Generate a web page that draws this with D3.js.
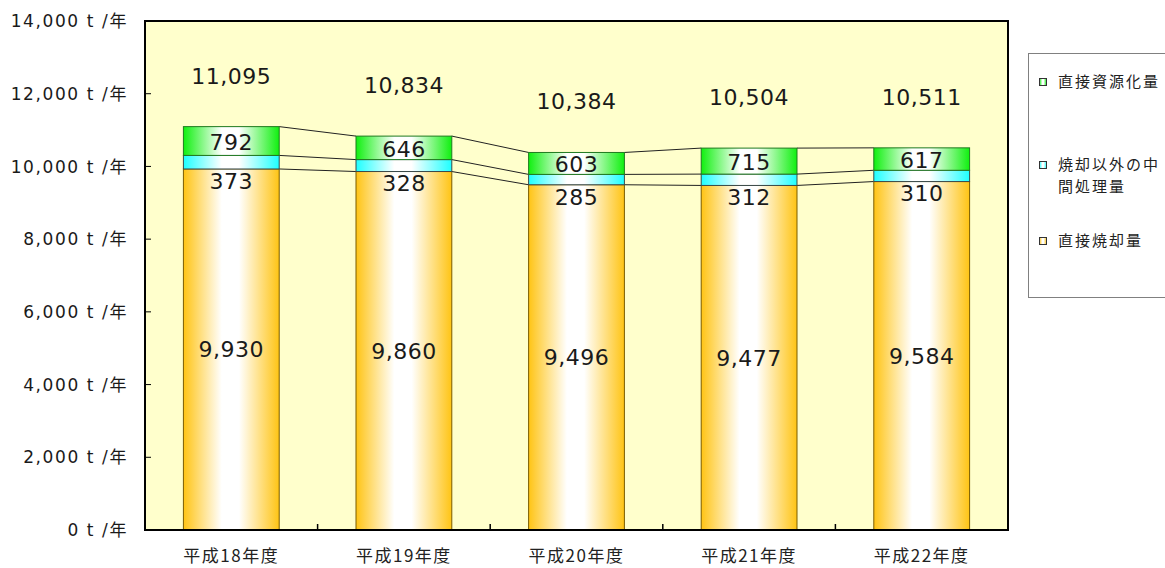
<!DOCTYPE html>
<html>
<head>
<meta charset="utf-8">
<script src="https://cdn.jsdelivr.net/npm/d3@7"></script>
<style>
  html, body { margin: 0; padding: 0; background: #ffffff; }
  svg { display: block; }
  .num { font-family: "DejaVu Sans", "Noto Sans CJK JP", sans-serif; fill: #1a1a1a; }
  .jp { font-family: "Noto Sans CJK JP", sans-serif; fill: #222; }
</style>
</head>
<body>
<svg id="chart" width="1165" height="568"></svg>
<script>
// 年度別のごみ処理量（t/年）
const categories = ["平成18年度", "平成19年度", "平成20年度", "平成21年度", "平成22年度"];
const directIncineration = [9930, 9860, 9496, 9477, 9584];   // 直接焼却量
const otherIntermediate = [373, 328, 285, 312, 310];          // 焼却以外の中間処理量
const directRecycling = [792, 646, 603, 715, 617];            // 直接資源化量
const yTicks = [0, 2000, 4000, 6000, 8000, 10000, 12000, 14000];

const seriesNames = ["直接焼却量", "焼却以外の中間処理量", "直接資源化量"];
const seriesValues = [directIncineration, otherIntermediate, directRecycling];
const seriesColors = ["#FFC414", "#1EFFFF", "#10F010"];
const seriesStrokes = ["#7a5c00", "#3a4a4a", "#1f7a1f"];

const svg = d3.select("#chart");
const plot = { left: 145, right: 1008, top: 21, bottom: 530 };

const x = d3.scaleBand()
  .domain(categories)
  .range([plot.left, plot.right])
  .paddingInner(0.445)
  .paddingOuter(0.2225);

const y = d3.scaleLinear()
  .domain([0, 14000])
  .range([plot.bottom, plot.top]);

// horizontal gradients: colour at the edges, white in the middle
const defs = svg.append("defs");
seriesColors.forEach((c, i) => {
  const g = defs.append("linearGradient")
    .attr("id", "grad" + i)
    .attr("x1", "0%").attr("x2", "100%").attr("y1", "0%").attr("y2", "0%");
  g.append("stop").attr("offset", "0%").attr("stop-color", c);
  g.append("stop").attr("offset", "40%").attr("stop-color", "#ffffff");
  g.append("stop").attr("offset", "58%").attr("stop-color", "#ffffff");
  g.append("stop").attr("offset", "100%").attr("stop-color", c);
});

// plot background
svg.append("rect")
  .attr("x", plot.left).attr("y", plot.top)
  .attr("width", plot.right - plot.left).attr("height", plot.bottom - plot.top)
  .attr("fill", "#FFFFCC");

// stacked data
const table = categories.map((c, i) => {
  const row = { cat: c };
  seriesNames.forEach((s, k) => { row[s] = seriesValues[k][i]; });
  return row;
});
const stacked = d3.stack().keys(seriesNames)(table);

// series lines joining the stack levels between neighbouring bars
stacked.forEach(layer => {
  for (let i = 0; i < categories.length - 1; i++) {
    svg.append("line")
      .attr("x1", x(categories[i]) + x.bandwidth())
      .attr("y1", y(layer[i][1]))
      .attr("x2", x(categories[i + 1]))
      .attr("y2", y(layer[i + 1][1]))
      .attr("stroke", "#222")
      .attr("stroke-width", 1);
  }
});

// bars
stacked.forEach((layer, k) => {
  svg.append("g")
    .selectAll("rect")
    .data(layer)
    .join("rect")
    .attr("x", d => x(d.data.cat))
    .attr("y", d => y(d[1]))
    .attr("width", x.bandwidth())
    .attr("height", d => y(d[0]) - y(d[1]))
    .attr("fill", "url(#grad" + k + ")")
    .attr("stroke", seriesStrokes[k])
    .attr("stroke-width", 1);
});

const fmt = d3.format(",");

// value labels
const labelSize = 22;
// 直接焼却量: centred in its segment
svg.append("g").selectAll("text")
  .data(stacked[0])
  .join("text")
  .attr("class", "num")
  .attr("x", d => x(d.data.cat) + x.bandwidth() / 2)
  .attr("y", d => (y(d[0]) + y(d[1])) / 2)
  .attr("dy", "0.36em")
  .attr("text-anchor", "middle")
  .attr("font-size", labelSize)
  .attr("letter-spacing", 0.5)
  .text(d => fmt(d[1] - d[0]));

// 焼却以外の中間処理量: just below its thin segment
svg.append("g").selectAll("text")
  .data(stacked[1])
  .join("text")
  .attr("class", "num")
  .attr("x", d => x(d.data.cat) + x.bandwidth() / 2)
  .attr("y", d => y(d[0]) + 12)
  .attr("dy", "0.36em")
  .attr("text-anchor", "middle")
  .attr("font-size", labelSize)
  .attr("letter-spacing", 0.5)
  .text(d => fmt(d[1] - d[0]));

// 直接資源化量: centred in its segment
svg.append("g").selectAll("text")
  .data(stacked[2])
  .join("text")
  .attr("class", "num")
  .attr("x", d => x(d.data.cat) + x.bandwidth() / 2)
  .attr("y", d => (y(d[0]) + y(d[1])) / 2 + 1)
  .attr("dy", "0.36em")
  .attr("text-anchor", "middle")
  .attr("font-size", labelSize)
  .attr("letter-spacing", 0.5)
  .text(d => fmt(d[1] - d[0]));

// totals above each bar
svg.append("g").selectAll("text")
  .data(stacked[2])
  .join("text")
  .attr("class", "num")
  .attr("x", d => x(d.data.cat) + x.bandwidth() / 2)
  .attr("y", d => y(d[1]) - 51)
  .attr("dy", "0.36em")
  .attr("text-anchor", "middle")
  .attr("font-size", labelSize)
  .attr("letter-spacing", 0.5)
  .text(d => fmt(d[1]));

// y axis tick marks (inside) and labels
const yAxis = svg.append("g");
yAxis.selectAll("line")
  .data(yTicks)
  .join("line")
  .attr("x1", plot.left).attr("x2", plot.left + 6)
  .attr("y1", d => y(d)).attr("y2", d => y(d))
  .attr("stroke", "#000").attr("stroke-width", 1);
yAxis.selectAll("text")
  .data(yTicks)
  .join("text")
  .attr("class", "num")
  .attr("x", 128)
  .attr("y", d => y(d))
  .attr("dy", "0.36em")
  .attr("text-anchor", "end")
  .attr("font-size", 17)
  .attr("letter-spacing", 1.6)
  .attr("fill", "#2a2a2a")
  .text(d => fmt(d) + " t /年");

// x axis tick marks between categories
const bounds = categories.slice(1).map(c => x(c) - x.step() * x.paddingInner() / 2);
svg.append("g").selectAll("line")
  .data(bounds)
  .join("line")
  .attr("x1", d => d).attr("x2", d => d)
  .attr("y1", plot.bottom).attr("y2", plot.bottom - 6)
  .attr("stroke", "#000").attr("stroke-width", 1.5);

// category labels
svg.append("g").selectAll("text")
  .data(categories)
  .join("text")
  .attr("class", "jp")
  .attr("x", d => x(d) + x.bandwidth() / 2)
  .attr("y", 556)
  .attr("dy", "0.36em")
  .attr("text-anchor", "middle")
  .attr("font-size", 17)
  .attr("letter-spacing", 1.5)
  .text(d => d);

// plot frame
svg.append("rect")
  .attr("x", plot.left).attr("y", plot.top)
  .attr("width", plot.right - plot.left).attr("height", plot.bottom - plot.top)
  .attr("fill", "none")
  .attr("stroke", "#000")
  .attr("stroke-width", 2);

// legend
const legend = svg.append("g");
legend.append("rect")
  .attr("x", 1028.5).attr("y", 53.5)
  .attr("width", 150).attr("height", 244)
  .attr("fill", "#fff")
  .attr("stroke", "#808080")
  .attr("stroke-width", 1);

const legendItems = [
  { k: 2, lines: ["直接資源化量"], y: 82 },
  { k: 1, lines: ["焼却以外の中", "間処理量"], y: 165 },
  { k: 0, lines: ["直接焼却量"], y: 241 }
];
legendItems.forEach(item => {
  legend.append("rect")
    .attr("x", 1039.5).attr("y", item.y - 3.5)
    .attr("width", 7).attr("height", 7)
    .attr("fill", "url(#grad" + item.k + ")")
    .attr("stroke", "#333")
    .attr("stroke-width", 1);
  item.lines.forEach((t, j) => {
    legend.append("text")
      .attr("class", "jp")
      .attr("x", 1058)
      .attr("y", item.y + j * 22)
      .attr("dy", "0.36em")
      .attr("font-size", 15)
      .attr("letter-spacing", 2)
      .attr("fill", "#333")
      .text(t);
  });
});
</script>
</body>
</html>
